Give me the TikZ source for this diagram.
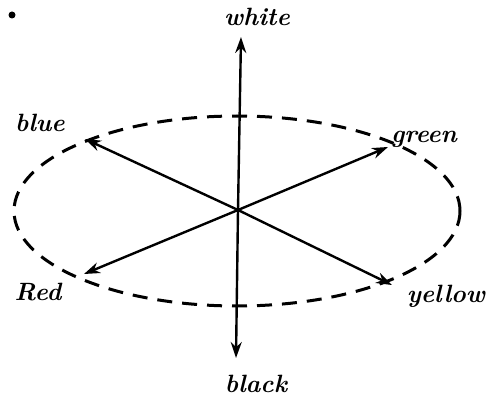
\documentclass[tikz,border=0pt]{standalone}
\usetikzlibrary{arrows.meta}
\begin{document}
\begin{tikzpicture}[x=1pt,y=-1pt,
  lbl/.style={font=\fontsize{25}{28}\selectfont\bfseries\itshape, inner sep=0pt},
  axis/.style={line width=2.4pt, -{Stealth[length=16pt,width=11pt]}},
  ring/.style={line width=3pt, dash pattern=on 15pt off 10pt}]
\useasboundingbox (0,0) rectangle (487,401);
\fill (12,15) circle (3.5);
\coordinate (O) at (238,210);
\draw[ring] (237,211) ellipse [x radius=223, y radius=95];
\node[lbl] (white) at (257,17) {white};
\node[lbl] (black) at (256,384) {black};
\node[lbl] (blue) at (40,123) {blue};
\node[lbl] (green) at (424,139) {green};
\node[lbl] (red) at (38,292) {Red};
\node[lbl] (yellow) at (446,296) {yellow};
\coordinate (tw) at (241,37);
\coordinate (tb) at (236,358);
\coordinate (tbl) at (85,139);
\coordinate (tg) at (388,147);
\coordinate (tr) at (84,274);
\coordinate (ty) at (392,285);
\draw[axis] (O) -- (tw);
\draw[axis] (O) -- (tb);
\draw[axis] (O) -- (tbl);
\draw[axis] (O) -- (tg);
\draw[axis] (O) -- (tr);
\draw[axis] (O) -- (ty);
\end{tikzpicture}
\end{document}
